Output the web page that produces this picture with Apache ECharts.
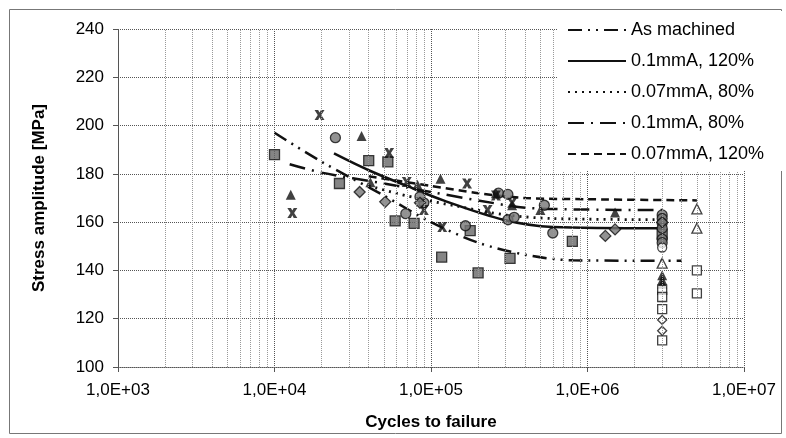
<!DOCTYPE html>
<html>
<head>
<meta charset="utf-8">
<script src="https://cdn.jsdelivr.net/npm/echarts@6/dist/echarts.min.js"></script>
<style>
  html, body { margin: 0; padding: 0; background: #fff; }
  #chart { width: 786px; height: 438px; }
</style>
</head>
<body>
<div id="chart"></div>
<script>
// tick labels and gridline positions
const xTickLabels = ['1,0E+03', '1,0E+04', '1,0E+05', '1,0E+06', '1,0E+07'];
const minorMults = [2, 3, 4, 5, 6, 7, 8, 9];
const minorDecades = [1e3, 1e4, 1e5, 1e6];

// fitted curves [cycles, stress]
const asMachinedFit = [[1e4, 197], [2e4, 185], [5e4, 171], [1e5, 160], [2e5, 151.5], [4e5, 146.5], [8e5, 144.2], [4e6, 144]];
const fit01_120 = [[2.4e4, 188.5], [4e4, 181.5], [7e4, 175], [1.2e5, 169], [2.9e5, 161], [6e5, 158], [3e6, 157.5]];
const fit007_80 = [[4e4, 175], [8e4, 170], [1.5e5, 166.5], [3e5, 163], [6e5, 161.5], [3e6, 161]];
const fit01_80 = [[1.25e4, 184], [2e4, 180.5], [5e4, 176], [1e5, 172.5], [2e5, 169], [4e5, 166], [1e6, 165.2], [3e6, 165]];
const fit007_120 = [[4e4, 179], [1e5, 175], [2e5, 172], [4e5, 170], [1e6, 169.5], [5e6, 169]];

// test points
const squarePts = [[1e4, 188], [2.6e4, 176], [4e4, 185.5], [5.3e4, 185], [5.9e4, 160.5], [7.8e4, 159.5], [1.17e5, 145.5],
  [1.78e5, 156.5], [2e5, 139], [3.2e5, 145], [8e5, 152], [3e6, 155]];
const circlePts = [[2.45e4, 195], [6.9e4, 163.5], [1.66e5, 158.5], [3.1e5, 161], [3.4e5, 162], [6e5, 155.5], [2.7e5, 172],
  [3.1e5, 171.5], [5.3e5, 167], [9e4, 168], [8.5e4, 170.5], [3e6, 163], [3e6, 161.5], [3e6, 159.5], [3e6, 157.5], [3e6, 153], [3e6, 151.5]];
const trianglePts = [[1.27e4, 171.3], [3.6e4, 195.7], [4.1e4, 176.5], [8.2e4, 175.5], [1.15e5, 178], [2.6e5, 172], [3.3e5, 167],
  [5e5, 165], [1.5e6, 164], [3e6, 138], [3e6, 136], [3e6, 134.5]];
const crossPts = [[1.3e4, 163.8], [1.94e4, 204.4], [5.4e4, 188.6], [7e4, 176.6], [9e4, 165], [1.18e5, 158], [1.7e5, 176],
  [2.3e5, 165], [2.6e5, 171], [3.3e5, 168]];
const diamondPts = [[3.5e4, 172.5], [5.1e4, 168.4], [8.5e4, 168], [1.3e6, 154.3], [1.5e6, 157], [3e6, 160]];
const openTrianglePts = [[5e6, 165.5], [5e6, 157.5], [3e6, 143]];
const openSquarePts = [[5e6, 140], [5e6, 130.5], [3e6, 132], [3e6, 129], [3e6, 124], [3e6, 111]];
const openDiamondPts = [[3e6, 119.5], [3e6, 115]];
const openCirclePts = [[3e6, 149.5]];

const minorX = [];
for (let d of minorDecades) for (let m of minorMults) minorX.push(d * m);

const font = 'Liberation Sans, Arial, sans-serif';
const crossPath = 'path://M0,0L3.6,0L5,2.6L6.4,0L10,0L6.8,5L10,10L6.4,10L5,7.4L3.6,10L0,10L3.2,5Z';

function fitLine(name, data, type, width) {
  return {
    name: name, type: 'line', data: data, showSymbol: false, symbol: 'none', smooth: 0.3,
    itemStyle: {color: '#111'},
    lineStyle: {color: '#111', width: width || 2.5, type: type},
    z: 3
  };
}
function pts(data, symbol, size, fill, border) {
  return {
    type: 'scatter', data: data, symbol: symbol, symbolSize: size,
    itemStyle: {color: fill, borderColor: border || '#111', borderWidth: border ? 1.3 : 0}, z: 4
  };
}

let chart = echarts.init(document.getElementById('chart'));
let options = {
  animation: false,
  grid: {left: 118, right: 42, top: 29, bottom: 71},
  graphic: [{
    type: 'rect', shape: {x: 9.5, y: 9.5, width: 772, height: 424},
    style: {fill: 'none', stroke: '#777', lineWidth: 1}, z: -1
  }],
  legend: {
    data: ['As machined', '0.1mmA, 120%', '0.07mmA, 80%', '0.1mmA, 80%', '0.07mmA, 120%'],
    orient: 'vertical', left: 557, top: 11, itemWidth: 58, itemHeight: 12, itemGap: 13,
    padding: [10, 40, 8, 10], backgroundColor: '#fff', z: 10,
    itemStyle: {opacity: 0},
    textStyle: {fontFamily: font, fontSize: 18, color: '#000'}
  },
  xAxis: {
    type: 'log', logBase: 10, min: 1e3, max: 1e7,
    name: 'Cycles to failure', nameLocation: 'middle', nameGap: 47,
    nameTextStyle: {fontFamily: font, fontSize: 17, fontWeight: 'bold', color: '#000'},
    axisLabel: {
      fontFamily: font, fontSize: 17, color: '#000', margin: 15,
      formatter: v => xTickLabels[Math.round(Math.log10(v)) - 3]
    },
    axisLine: {lineStyle: {color: '#555', type: 'dotted'}},
    axisTick: {show: true, length: 5, lineStyle: {color: '#555'}},
    splitLine: {show: true, lineStyle: {color: '#555', type: 'dotted'}}
  },
  yAxis: {
    type: 'value', min: 100, max: 240, interval: 20,
    name: 'Stress amplitude [MPa]', nameLocation: 'middle', nameGap: 70,
    nameTextStyle: {fontFamily: font, fontSize: 17, fontWeight: 'bold', color: '#000'},
    axisLabel: {fontFamily: font, fontSize: 17, color: '#000', margin: 14},
    axisLine: {show: true, lineStyle: {color: '#555', type: 'dotted'}},
    axisTick: {show: true, length: 5, lineStyle: {color: '#555'}},
    splitLine: {show: true, lineStyle: {color: '#555', type: 'dotted'}}
  },
  series: [
    {
      type: 'scatter', data: [], silent: true,
      markLine: {
        silent: true, symbol: 'none', label: {show: false}, animation: false,
        lineStyle: {color: '#999', width: 1, type: 'dotted'},
        data: minorX.map(v => ({xAxis: v}))
      }
    },
    fitLine('As machined', asMachinedFit, [14, 6, 2, 6, 2, 6]),
    fitLine('0.1mmA, 120%', fit01_120, 'solid'),
    fitLine('0.07mmA, 80%', fit007_80, [2, 5], 2.8),
    fitLine('0.1mmA, 80%', fit01_80, [16, 7, 2, 7]),
    fitLine('0.07mmA, 120%', fit007_120, [8, 5]),
    pts(squarePts, 'rect', 10, '#666', '#111'),
    pts(circlePts, 'circle', 10, '#777', '#111'),
    pts(trianglePts, 'triangle', 10, '#111'),
    pts(crossPts, crossPath, 10, '#111'),
    pts(diamondPts, 'diamond', 11, '#777', '#111'),
    pts(openTrianglePts, 'triangle', 10, '#fff', '#111'),
    pts(openSquarePts, 'rect', 9, '#fff', '#111'),
    pts(openDiamondPts, 'diamond', 9, '#fff', '#111'),
    pts(openCirclePts, 'circle', 9, '#fff', '#111')
  ]
};
chart.setOption(options);
</script>
</body>
</html>
